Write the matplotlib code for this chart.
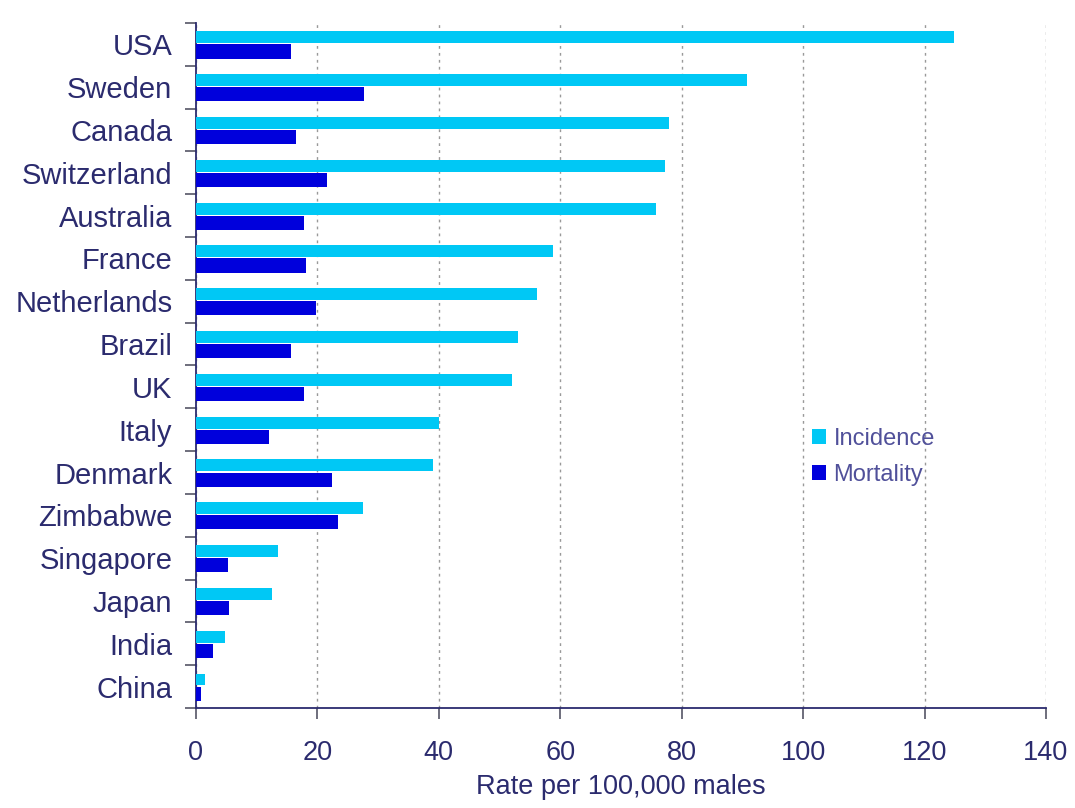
import numpy as np
import matplotlib.pyplot as plt

countries = ['USA', 'Sweden', 'Canada', 'Switzerland', 'Australia', 'France',
             'Netherlands', 'Brazil', 'UK', 'Italy', 'Denmark', 'Zimbabwe',
             'Singapore', 'Japan', 'India', 'China']
incidence = [124.8, 90.8, 77.9, 77.3, 75.7, 58.8, 56.2, 53.0, 52.0, 40.1,
             39.1, 27.5, 13.5, 12.5, 4.8, 1.5]
mortality = [15.6, 27.7, 16.5, 21.6, 17.8, 18.1, 19.8, 15.6, 17.8, 12.0,
             22.4, 23.4, 5.3, 5.4, 2.8, 0.8]
xticks = [0, 20, 40, 60, 80, 100, 120, 140]

navy = '#2b2b6e'
plt.rcParams['font.family'] = ['Liberation Sans', 'DejaVu Sans']

fig = plt.figure(figsize=(10.75, 8.08), dpi=100)
ax = fig.add_axes([0.1823, 0.1238, 0.7907, 0.8477])

y = np.arange(len(countries))
ax.barh(y - 0.165, incidence, height=0.28, color='#00c8f5', label='Incidence', zorder=3)
ax.barh(y + 0.165, mortality, height=0.33, color='#0000dc', label='Mortality', zorder=3)

ax.set_ylim(len(countries) - 0.5, -0.5)
ax.set_xlim(0, 140)
ax.set_yticks(y)
ax.set_yticklabels(countries, fontsize=21, color=navy)
ax.set_yticks(np.arange(-0.5, len(countries), 1), minor=True)
ax.tick_params(axis='y', which='major', length=0, pad=17)
ax.tick_params(axis='y', which='minor', length=8, width=1.2, color='#555566')
ax.set_xticks(xticks)
ax.set_xticklabels([str(t) for t in xticks], fontsize=19.5, color=navy)
ax.tick_params(axis='x', length=8, width=1.2, color='#555566', pad=15)

ax.grid(axis='x', linestyle=(0, (2, 3)), color='#999999', linewidth=1, zorder=0)
for s in ['top', 'right']:
    ax.spines[s].set_visible(False)
for s in ['left', 'bottom']:
    ax.spines[s].set_color(navy)
    ax.spines[s].set_linewidth(1.3)

ax.set_xlabel('Rate per 100,000 males', fontsize=19.5, color=navy, labelpad=6)

leg = ax.legend(loc='upper left', bbox_to_anchor=(0.7, 0.44), frameon=False,
                fontsize=17, handlelength=0.6, handleheight=0.6,
                handletextpad=0.3, labelspacing=0.6)
for t in leg.get_texts():
    t.set_color('#50509a')

fig.savefig('out.png', dpi=100)
